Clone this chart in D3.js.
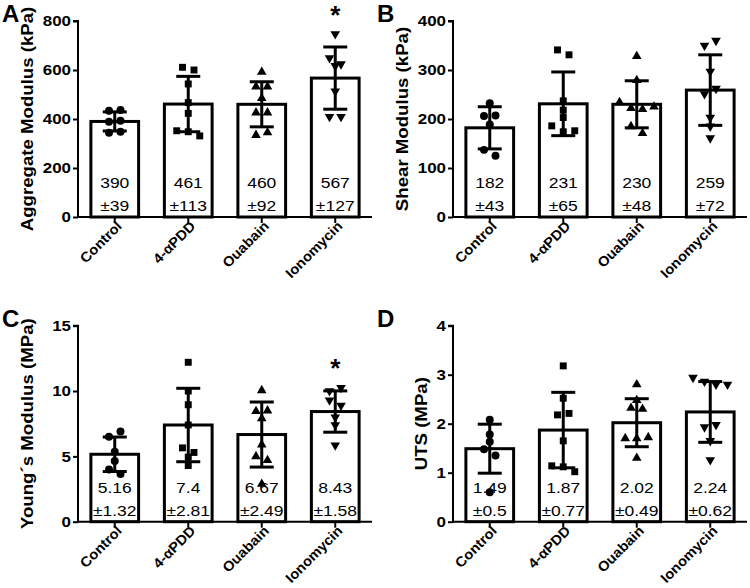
<!DOCTYPE html>
<html><head><meta charset="utf-8">
<script src="https://cdn.jsdelivr.net/npm/d3@7"></script>
<style>body{margin:0;background:#fff}svg{display:block}text{font-family:"Liberation Sans",Arial,sans-serif}</style>
</head><body><svg id="c" width="750" height="588"></svg>
<script>
const categories = ["Control","4-\u03b1PDD","Ouabain","Ionomycin"];
const markerShapes = ["circle","square","triangle","triangleDown"];

// A: Aggregate modulus (kPa)
const aggregateMeans = [390,461,460,567];
const aggregateSD = [39,113,92,127];
const aggregatePoints = [
  [434,437,389,393,344,348],
  [611,600,543,467,423,352,348,331],
  [592,532,532,485,426,426,334,345],
  [747,649,624,617,513,409,409]
];
const aggregateSig = [false,false,false,true];
const aggregateTicks = [0,200,400,600,800];

// B: Shear modulus (kPa)
const shearMeans = [182,231,230,259];
const shearSD = [43,65,48,72];
const shearPoints = [
  [232,206,207,189,137,125],
  [341,331,237,218,203,186,174,176],
  [328,279,234,222,220,225,185,171],
  [350,360,297,251,262,203,185,161]
];
const shearSig = [false,false,false,false];
const shearTicks = [0,100,200,300,400];

// C: Young's modulus (MPa)
const youngMeans = [5.16,7.4,6.67,8.43];
const youngSD = [1.32,2.81,2.49,1.58];
const youngPoints = [
  [6.5,6.9,5.35,4.65,4.0,3.65],
  [12.2,10.0,8.95,7.4,5.65,5.3,4.95,4.3],
  [10.05,8.45,8.5,7.9,5.9,5.0,4.7,2.88],
  [10.0,10.25,9.3,8.9,8.0,7.4,5.85]
];
const youngSig = [false,false,false,true];
const youngTicks = [0,5,10,15];

// D: UTS (MPa)
const utsMeans = [1.49,1.87,2.02,2.24];
const utsSD = [0.5,0.77,0.49,0.62];
const utsPoints = [
  [2.08,1.78,1.63,1.48,1.35,0.6],
  [3.18,2.52,2.18,2.21,1.65,1.14,1.12,1.02],
  [2.8,2.48,2.32,2.3,1.7,1.7,1.72,1.3],
  [2.94,2.86,2.8,2.8,1.93,1.98,1.65,1.26]
];
const utsSig = [false,false,false,false];
const utsTicks = [0,1,2,3,4];

const panels = [
  {letter:"A", title:"Aggregate Modulus (kPa)", means:aggregateMeans, sd:aggregateSD, pts:aggregatePoints, sig:aggregateSig, ticks:aggregateTicks, max:800,
   ox:0, oy:0, titleX:33},
  {letter:"B", title:"Shear Modulus (kPa)", means:shearMeans, sd:shearSD, pts:shearPoints, sig:shearSig, ticks:shearTicks, max:400,
   ox:375, oy:0, titleX:33},
  {letter:"C", title:"Young\u00b4s Modulus (MPa)", means:youngMeans, sd:youngSD, pts:youngPoints, sig:youngSig, ticks:youngTicks, max:15,
   ox:0, oy:304.7, titleX:33},
  {letter:"D", title:"UTS (MPa)", means:utsMeans, sd:utsSD, pts:utsPoints, sig:utsSig, ticks:utsTicks, max:4,
   ox:375, oy:304.7, titleX:52}
];

const SX = 1.13; // horizontal stretch of the original's lettering
const svg = d3.select("#c");
const symType = {circle:d3.symbolCircle, square:d3.symbolSquare, triangle:d3.symbolTriangle, triangleDown:d3.symbolTriangle};

function rowOffsets(ys, d, spacing){
  const idx = ys.map((y,i)=>i).sort((a,b)=>ys[a]-ys[b]);
  const offs = new Array(ys.length).fill(0);
  let row = [];
  const flush = () => {
    const n = row.length;
    row.sort((a,b)=>a-b).forEach((i,k)=>{ offs[i] = (k-(n-1)/2)*spacing; });
    row = [];
  };
  for (const i of idx){
    if (row.length && ys[i]-ys[row[0]] > d) flush();
    row.push(i);
  }
  flush();
  return offs;
}

panels.forEach(p => {
  const g = svg.append("g").attr("transform", `translate(${p.ox},${p.oy})`);
  const left = 78, right = 372, top = 21, bottom = 217;
  const x = d3.scaleBand().domain(categories).range([left,right]).paddingInner(0.31).paddingOuter(0.155);
  const y = d3.scaleLinear().domain([0,p.max]).range([bottom,top]);

  // bars
  g.selectAll("rect.bar").data(p.means).join("rect")
    .attr("x",(d,i)=>x(categories[i])+1.5)
    .attr("y",d=>y(d))
    .attr("width",x.bandwidth()-3)
    .attr("height",d=>bottom-y(d))
    .attr("fill","#fff").attr("stroke","#000").attr("stroke-width",3);

  // labels in bars
  p.means.forEach((m,i)=>{
    const cx = x(categories[i])+x.bandwidth()/2;
    g.append("text").attr("transform",`translate(${cx},${bottom-29}) scale(${SX},1)`).attr("text-anchor","middle")
      .attr("font-size",15.5).text(String(m));
    g.append("text").attr("transform",`translate(${cx},${bottom-6}) scale(${SX},1)`).attr("text-anchor","middle")
      .attr("font-size",15.5).text("\u00b1"+String(p.sd[i]));
  });

  // points
  p.pts.forEach((vals,i)=>{
    const cx = x(categories[i])+x.bandwidth()/2;
    const ys = vals.map(v=>y(v));
    const offs = rowOffsets(ys, 7, 11.5);
    const shape = markerShapes[i];
    const sym = d3.symbol().type(symType[shape]).size(shape==="circle"?50:(shape==="square"?48:40));
    vals.forEach((v,j)=>{
      g.append("path").attr("d",sym())
        .attr("transform",`translate(${cx+offs[j]},${ys[j]})${shape==="triangleDown"?" rotate(180)":""}`)
        .attr("fill","#000");
    });
  });

  // error bars
  p.means.forEach((m,i)=>{
    const cx = x(categories[i])+x.bandwidth()/2;
    const y1 = y(m+p.sd[i]), y0 = y(m-p.sd[i]);
    g.append("line").attr("x1",cx).attr("x2",cx).attr("y1",y1).attr("y2",y0).attr("stroke","#000").attr("stroke-width",3);
    [y1,y0].forEach(yy=>g.append("line").attr("x1",cx-12).attr("x2",cx+12).attr("y1",yy).attr("y2",yy).attr("stroke","#000").attr("stroke-width",3));
    if (p.sig[i]) {
      g.append("text").attr("x",cx).attr("y",y(Math.max(...p.pts[i]))-10.4).attr("text-anchor","middle")
        .attr("font-size",26).attr("font-weight","bold").text("*");
    }
  });

  // axes
  const ya = g.append("g").attr("transform",`translate(${left},0)`)
    .call(d3.axisLeft(y).tickValues(p.ticks).tickSize(5).tickPadding(3).tickFormat(d3.format("d")));
  ya.select(".domain").attr("stroke-width",2).attr("d",`M-5,${top}H0V${bottom+1}`);
  ya.selectAll(".tick line").attr("stroke-width",2);
  ya.selectAll("text").attr("font-size",15).attr("font-weight","bold").attr("font-family","Liberation Sans, Arial, sans-serif").attr("fill","#000")
    .attr("x",0).attr("transform",`translate(-7,0) scale(${SX},1)`);

  const xa = g.append("g").attr("transform",`translate(0,${bottom})`)
    .call(d3.axisBottom(x).tickSize(6).tickSizeOuter(0));
  xa.select(".domain").attr("stroke-width",2).attr("d",`M${left-1},0H${right}`);
  xa.selectAll(".tick line").attr("stroke-width",2);
  xa.selectAll("text").attr("font-size",14).attr("font-weight","bold").attr("font-family","Liberation Sans, Arial, sans-serif")
    .attr("fill","#000").attr("text-anchor","end").attr("dy",0)
    .attr("transform",`translate(8,10) rotate(-45) scale(1.05,1)`).attr("y",0).attr("x",0);

  // title
  g.append("text").attr("transform",`translate(${p.titleX},${(top+bottom)/2}) rotate(-90) scale(${SX},1)`)
    .attr("text-anchor","middle").attr("font-size",16.5).attr("font-weight","bold").text(p.title);
  // letter
  g.append("text").attr("x",2).attr("y",22).attr("font-size",24).attr("font-weight","bold").text(p.letter);
});
</script></body></html>
